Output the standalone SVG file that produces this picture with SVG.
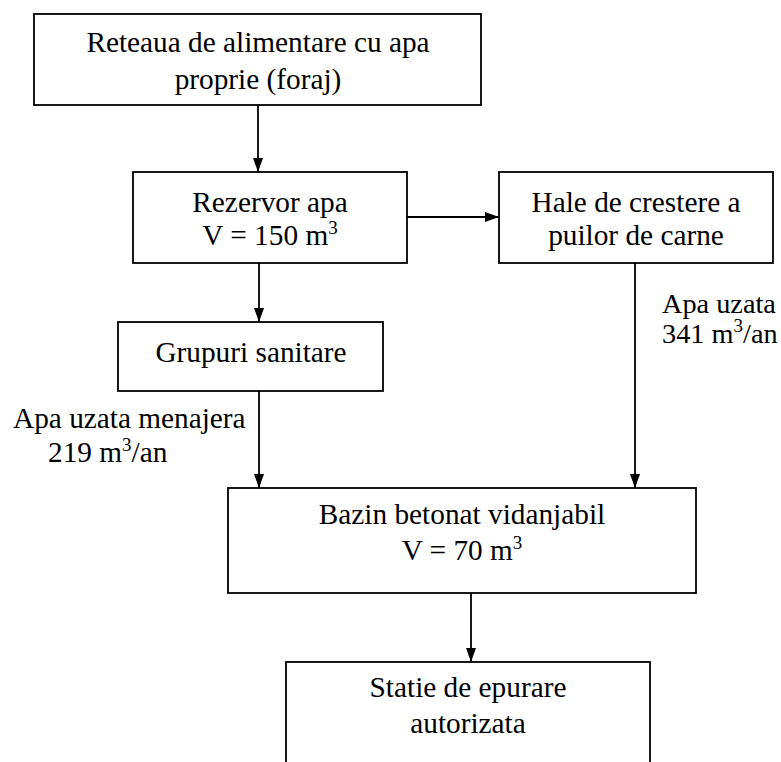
<svg xmlns="http://www.w3.org/2000/svg" width="781" height="762" viewBox="0 0 781 762">
<style>
.box{fill:#fff;stroke:#000;stroke-width:1.8}
.t{font-family:"Liberation Serif","Times New Roman",serif;font-size:29.3px;fill:#000}
.c{text-anchor:middle}
.sm{font-size:28.3px}
.sup{font-size:19px}
.ln{stroke:#000;stroke-width:1.8;fill:none}
</style>
<defs>
<marker id="ah" viewBox="0 0 14 10" refX="14" refY="5" markerWidth="14" markerHeight="10" markerUnits="userSpaceOnUse" orient="auto">
<path d="M0,0 L14,5 L0,10 Z" fill="#000"/>
</marker>
</defs>
<rect width="781" height="762" fill="#fff"/>
<g id="connectors">
<line class="ln" x1="258" y1="105" x2="258" y2="172" marker-end="url(#ah)"/>
<line class="ln" x1="407" y1="217" x2="499" y2="217" marker-end="url(#ah)"/>
<line class="ln" x1="259" y1="263" x2="259" y2="322" marker-end="url(#ah)"/>
<line class="ln" x1="259" y1="391" x2="259" y2="488" marker-end="url(#ah)"/>
<line class="ln" x1="635" y1="263" x2="635" y2="488" marker-end="url(#ah)"/>
<line class="ln" x1="471" y1="592" x2="471" y2="662" marker-end="url(#ah)"/>
</g>
<g id="n1">
<rect class="box" x="34" y="14" width="447" height="91"/>
<text class="t c" x="258" y="52">Reteaua de alimentare cu apa</text>
<text class="t c" x="258" y="89">proprie (foraj)</text>
</g>
<g id="n2">
<rect class="box" x="133" y="172" width="274" height="91"/>
<text class="t c" x="270" y="212">Rezervor apa</text>
<text class="t c" x="270" y="245">V = 150 m<tspan class="sup" dy="-11">3</tspan></text>
</g>
<g id="n3">
<rect class="box" x="499" y="172" width="274" height="91"/>
<text class="t c" x="636" y="212">Hale de crestere a</text>
<text class="t c" x="636" y="245">puilor de carne</text>
</g>
<g id="n4">
<rect class="box" x="118" y="322" width="265" height="69"/>
<text class="t c" x="251" y="362">Grupuri sanitare</text>
</g>
<g id="n5">
<rect class="box" x="228" y="488" width="468" height="105"/>
<text class="t c" x="462" y="524">Bazin betonat vidanjabil</text>
<text class="t c" x="462" y="560">V = 70 m<tspan class="sup" dy="-11">3</tspan></text>
</g>
<g id="n6">
<rect class="box" x="286" y="662" width="364" height="120"/>
<text class="t c" x="468" y="697">Statie de epurare</text>
<text class="t c" x="468" y="733">autorizata</text>
</g>
<g id="labels">
<text class="t" x="13" y="428">Apa uzata menajera</text>
<text class="t" x="48" y="462">219 m<tspan class="sup" dy="-11">3</tspan><tspan dy="11">/an</tspan></text>
<text class="t sm" x="662" y="313">Apa uzata</text>
<text class="t sm" x="662" y="343">341 m<tspan class="sup" dy="-11">3</tspan><tspan dy="11">/an</tspan></text>
</g>
</svg>
